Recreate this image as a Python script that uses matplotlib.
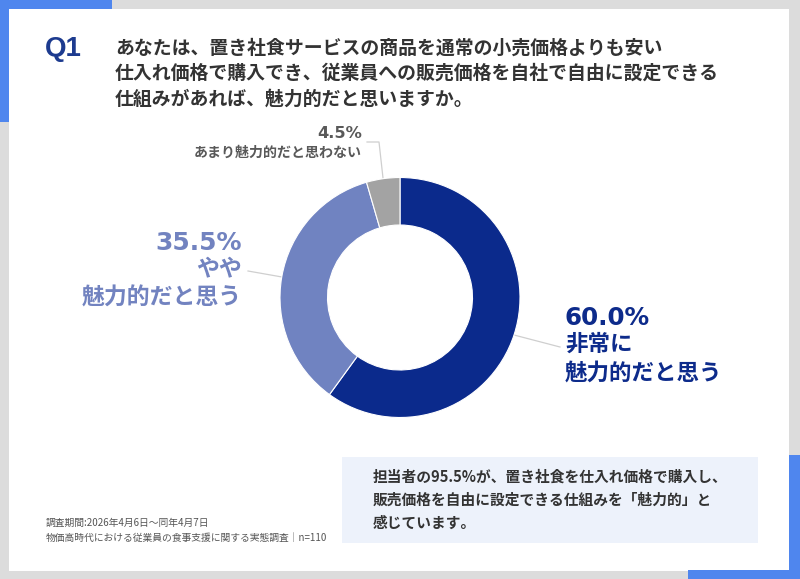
import matplotlib
matplotlib.use("Agg")
import matplotlib.pyplot as plt
from matplotlib.patches import Rectangle

plt.rcParams['font.family'] = ['Noto Sans CJK JP', 'DejaVu Sans']

# ---- data ----
categories = ["非常に\n魅力的だと思う", "やや\n魅力的だと思う", "あまり魅力的だと思わない"]
values = [60.0, 35.5, 4.5]
colors = ["#0b2a8c", "#7083c1", "#a3a3a3"]
title_q = "Q1"
title_lines = ["あなたは、置き社食サービスの商品を通常の小売価格よりも安い",
               "仕入れ価格で購入でき、従業員への販売価格を自社で自由に設定できる",
               "仕組みがあれば、魅力的だと思いますか。"]
note_lines = ["担当者の95.5%が、置き社食を仕入れ価格で購入し、",
              "販売価格を自由に設定できる仕組みを「魅力的」と",
              "感じています。"]
footer_lines = ["調査期間:2026年4月6日～同年4月7日",
                "物価高時代における従業員の食事支援に関する実態調査│n=110"]

W, H = 800, 579
def Y(py):
    return H - py

fig = plt.figure(figsize=(8.0, 5.79), dpi=100, facecolor="#dcdcdc")
ax = fig.add_axes([0, 0, 1, 1])
ax.set_facecolor("#dcdcdc")

blue = "#4f86ee"
# white panel
ax.add_patch(Rectangle((9, Y(571)), 780, 562, facecolor="white", edgecolor="none", zorder=0))
# blue accents
ax.add_patch(Rectangle((0, Y(9)), 112, 9, facecolor=blue, edgecolor="none", zorder=1))
ax.add_patch(Rectangle((0, Y(122)), 9, 122, facecolor=blue, edgecolor="none", zorder=1))
ax.add_patch(Rectangle((789, 0), 11, Y(455), facecolor=blue, edgecolor="none", zorder=1))
ax.add_patch(Rectangle((688, 0), 112, Y(570), facecolor=blue, edgecolor="none", zorder=1))

# donut
cx, cy, R, Rin = 400, Y(297.5), 120, 72.5
wedges, _ = ax.pie(values, colors=colors, startangle=90, counterclock=False,
                   center=(cx, cy), radius=R,
                   wedgeprops=dict(width=R - Rin, edgecolor="white", linewidth=0.8))
for w in wedges:
    w.set_zorder(3)

ax.set_xlim(0, W)
ax.set_ylim(0, H)
ax.set_aspect("auto")
ax.axis("off")

# title
ax.text(45, Y(49), title_q, fontsize=20, fontweight="bold", color="#1d3b8f",
        family=["Liberation Sans", "DejaVu Sans"], va="center", ha="left")
for i, line in enumerate(title_lines):
    ax.text(115, Y(48 + 25.5 * i), line, fontsize=13.6, fontweight="bold",
            color="#333333", va="center", ha="left")

# leader lines
lc = "#cfcfcf"
ax.plot([367, 379, 383], [Y(142), Y(142), Y(178)], color=lc, lw=0.9, zorder=2)
ax.plot([248, 282], [Y(271), Y(277)], color=lc, lw=0.9, zorder=2)
ax.plot([514, 560], [Y(335), Y(347)], color=lc, lw=0.9, zorder=2)

pct = [f"{v:.1f}%" for v in values]

# 4.5%
ax.text(362, Y(133), pct[2], fontsize=11.7, fontweight="bold", color="#595959",
        family=["DejaVu Sans"], ha="right", va="center")
ax.text(362, Y(153), categories[2], fontsize=10.1, fontweight="bold", color="#595959",
        ha="right", va="center")

# 35.5%
c1 = "#7283c0"
ax.text(242, Y(243), pct[1], fontsize=18, fontweight="bold", color=c1,
        family=["DejaVu Sans"], ha="right", va="center")
l1, l2 = categories[1].split("\n")
ax.text(242, Y(270), l1, fontsize=16.5, fontweight="bold", color=c1, ha="right", va="center")
ax.text(242, Y(298), l2, fontsize=16.5, fontweight="bold", color=c1, ha="right", va="center")

# 60.0%
c0 = "#0d2b8b"
ax.text(565, Y(318), pct[0], fontsize=17.7, fontweight="bold", color=c0,
        family=["DejaVu Sans"], ha="left", va="center")
l1, l2 = categories[0].split("\n")
ax.text(565, Y(344), l1, fontsize=16.2, fontweight="bold", color=c0, ha="left", va="center")
ax.text(565, Y(373), l2, fontsize=16.2, fontweight="bold", color=c0, ha="left", va="center")

# note box
ax.add_patch(Rectangle((342, Y(543)), 416, 86, facecolor="#edf2fb", edgecolor="none", zorder=1))
for i, line in enumerate(note_lines):
    ax.text(373, Y(477 + 23 * i), line, fontsize=10.6, fontweight="bold",
            color="#333333", ha="left", va="center", zorder=4)

# footer
for i, line in enumerate(footer_lines):
    ax.text(46, Y(523 + 14.5 * i), line, fontsize=7.05, color="#555555",
            ha="left", va="center")

fig.savefig("out.png", dpi=100, facecolor=fig.get_facecolor())
